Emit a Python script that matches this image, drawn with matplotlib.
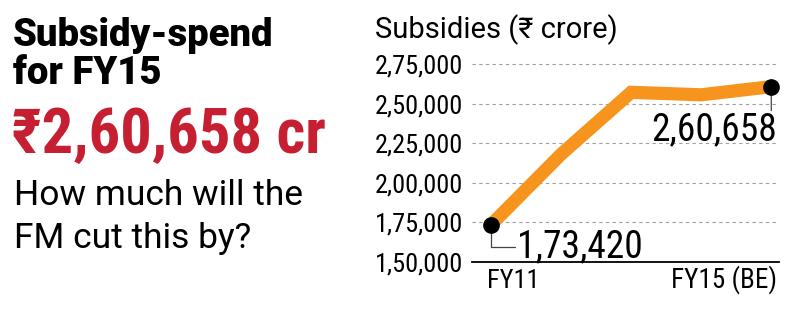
import matplotlib
matplotlib.use("Agg")
import matplotlib.pyplot as plt
from matplotlib import font_manager

# ---- data ----
years = ["FY11", "FY12", "FY13", "FY14", "FY15 (BE)"]
subsidies = [173420, 217941, 257079, 255516, 260658]
ytick_values = [150000, 175000, 200000, 225000, 250000, 275000]
ytick_labels = ["1,50,000", "1,75,000", "2,00,000", "2,25,000", "2,50,000", "2,75,000"]
first_label = "1,73,420"
last_label = "2,60,658"
chart_title = "Subsidies (\u20b9 crore)"
head1 = "Subsidy-spend"
head2 = "for FY15"
big_number = "\u20b92,60,658 cr"
question1 = "How much will the"
question2 = "FM cut this by?"

names = {f.name for f in font_manager.fontManager.ttflist}
stretch = "normal"
if "Roboto Condensed" in names:
    cond = "Roboto Condensed"
elif "Liberation Sans Narrow" in names:
    cond = "Liberation Sans Narrow"
else:
    cond = "DejaVu Sans"
    stretch = "condensed"
reg = "Roboto" if "Roboto" in names else "DejaVu Sans"
FAM = [cond, "DejaVu Sans"]
REG = [reg, "DejaVu Sans"]
plt.rcParams["font.family"] = FAM

W, H = 800, 336
fig = plt.figure(figsize=(8, 3.36), dpi=100)

def fx(px):
    return px / W

def fy(py):
    return 1 - py / H

# ---- left text block ----
fig.text(fx(13), fy(46), head1, fontsize=27.5, fontweight=900, color="black",
         ha="left", va="baseline", family=REG)
fig.text(fx(13), fy(84), head2, fontsize=27.5, fontweight=900, color="black",
         ha="left", va="baseline", family=REG)
fig.text(fx(12), fy(153), big_number, fontsize=45, fontweight="bold", color="#C61F32",
         ha="left", va="baseline", family=FAM, fontstretch=stretch)
fig.text(fx(14), fy(205), question1, fontsize=25.5, color="black",
         ha="left", va="baseline", family=REG)
fig.text(fx(14), fy(248), question2, fontsize=25.5, color="black",
         ha="left", va="baseline", family=REG)

# ---- chart title ----
fig.text(fx(375), fy(38), chart_title, fontsize=21, color="black",
         ha="left", va="baseline", family=REG)

# ---- axes ----
left, right = 472, 779
bottom_px, top_px = 262, 56
ax = fig.add_axes([fx(left), fy(bottom_px), (right - left) / W, (bottom_px - top_px) / H])
x = list(range(len(years)))
ax.set_xlim(-0.27, 4.11)
ax.set_ylim(150000, 280000)

for s in ["top", "right", "left"]:
    ax.spines[s].set_visible(False)
ax.spines["bottom"].set_color("black")
ax.spines["bottom"].set_linewidth(1.3)

ax.set_yticks(ytick_values)
ax.set_yticklabels(ytick_labels, fontsize=19)
for lab in ax.get_yticklabels():
    lab.set_fontstretch(stretch)
ax.tick_params(axis="y", length=0, pad=6.5)
ax.set_xticks([])
ax.grid(axis="y", color="#a0a0a0", linestyle=(0, (3, 3)), linewidth=0.8)
ax.set_axisbelow(True)

ax.plot(x, subsidies, color="#F7941D", linewidth=9.5, solid_capstyle="butt",
        solid_joinstyle="miter", zorder=3)
ax.plot([x[0], x[-1]], [subsidies[0], subsidies[-1]], linestyle="none", marker="o",
        markersize=11, color="black", zorder=5)

# x labels
ax.annotate(years[0], xy=(x[0], 150000), xytext=(-3, -18.7), textcoords="offset points",
            ha="left", va="baseline", fontsize=19, fontstretch=stretch, annotation_clip=False)
ax.annotate(years[-1], xy=(x[-1], 150000), xytext=(4.3, -18.7), textcoords="offset points",
            ha="right", va="baseline", fontsize=19.5, fontstretch=stretch, annotation_clip=False)

# data labels with leader lines
ax.annotate("", xy=(x[0], subsidies[0]), xytext=(17.3, -15.8), textcoords="offset points",
            arrowprops=dict(arrowstyle="-", color="#444444", lw=0.9, shrinkA=0, shrinkB=0,
                            connectionstyle="angle,angleA=180,angleB=90,rad=0"), zorder=4)
ax.annotate(first_label, xy=(x[0], subsidies[0]), xytext=(18.7, -23), textcoords="offset points",
            ha="left", va="baseline", fontsize=27, fontstretch=stretch, annotation_clip=False)
ax.annotate("", xy=(x[-1], subsidies[-1]), xytext=(0, -17.3), textcoords="offset points",
            arrowprops=dict(arrowstyle="-", color="#444444", lw=0.9, shrinkA=0, shrinkB=0), zorder=4)
ax.annotate(last_label, xy=(x[-1], subsidies[-1]), xytext=(4.3, -38.9), textcoords="offset points",
            ha="right", va="baseline", fontsize=27, fontstretch=stretch, annotation_clip=False)

fig.savefig("out.png", dpi=100)
